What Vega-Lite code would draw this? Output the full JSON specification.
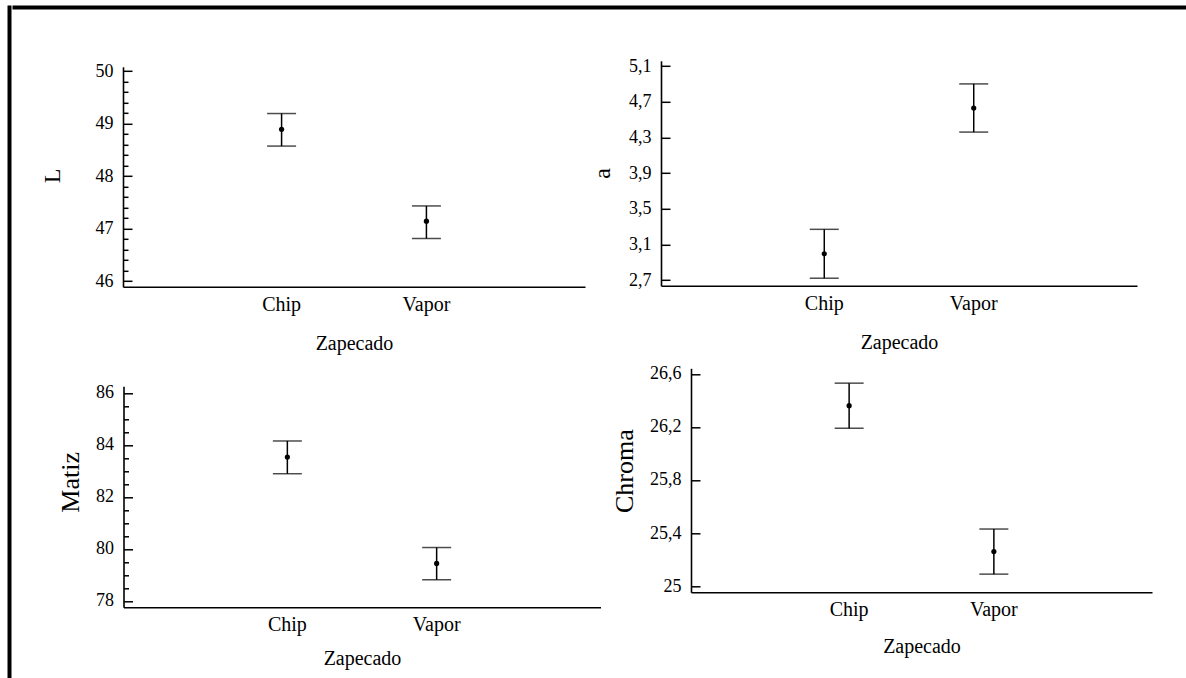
{
  "$schema": "https://vega.github.io/schema/vega-lite/v6.json",
  "background": "white",
  "padding": {"left": 7, "top": 5, "right": 0, "bottom": 0},
  "config": {
    "font": "Liberation Serif",
    "view": {"stroke": null},
    "style": {
      "guide-label": {"font": "Liberation Serif", "fill": "black"},
      "guide-title": {"font": "Liberation Serif", "fill": "black"}
    },
    "axis": {
      "grid": false,
      "domainColor": "black",
      "domainWidth": 1.6,
      "tickColor": "black",
      "tickWidth": 1.5,
      "labelColor": "black",
      "titleColor": "black",
      "labelFont": "Liberation Serif",
      "titleFont": "Liberation Serif",
      "titleFontWeight": "normal",
      "labelOverlap": false
    },
    "axisY": {
      "tickSize": -9,
      "labelFontSize": 18,
      "labelPadding": 19,
      "labelFont": "Liberation Serif",
      "titleFont": "Liberation Serif",
      "titleFontSize": 24,
      "titleBaseline": "middle",
      "titleAngle": 270
    },
    "axisX": {
      "ticks": false,
      "labelAngle": 0,
      "labelFont": "Liberation Serif",
      "titleFont": "Liberation Serif",
      "labelFontSize": 20,
      "labelPadding": 7.5,
      "titleFontSize": 20,
      "titleBaseline": "top"
    }
  },
  "spacing": 0,
  "hconcat": [
    {"data": {"values": []}, "mark": "point", "width": 1, "height": 670, "view": {"stroke": "black", "strokeWidth": 3}},
    {
      "spacing": 46.8,
      "vconcat": [
        {"data": {"values": []}, "mark": "point", "width": 1172, "height": 1, "view": {"stroke": "black", "strokeWidth": 3}},
        {
          "spacing": 10.5,
          "vconcat": [
            {
              "spacing": 5,
              "hconcat": [
                {"data": {"values": []}, "mark": "point", "width": 20.9, "height": 1},
                {
                  "spacing": 0,
                  "vconcat": [
                    {"data": {"values": []}, "mark": "point", "width": 1, "height": 1},
                    {
                      "width": 462,
                      "height": 220,
                      "data": {"values": [
                        {"Zapecado": "Chip", "media": 48.89, "inferior": 48.57, "superior": 49.19},
                        {"Zapecado": "Vapor", "media": 47.14, "inferior": 46.81, "superior": 47.43}
                      ]},
                      "encoding": {
                        "x": {"field": "Zapecado", "type": "nominal", "sort": ["Chip", "Vapor"],
                              "scale": {"type": "band", "paddingInner": 0.81, "paddingOuter": 1},
                              "axis": {"title": "Zapecado", "titleY": 47, "labelFont": "Liberation Serif", "titleFont": "Liberation Serif"}}
                      },
                      "layer": [
                        {
                          "mark": {"type": "errorbar", "ticks": {"size": 29}, "thickness": 1.5, "color": "black"},
                          "encoding": {
                            "y": {"field": "inferior", "type": "quantitative",
                                  "scale": {"domain": [45.89, 50.08], "nice": false, "zero": false},
                                  "axis": {"orient": "left", "title": "L", "values": [46, 47, 48, 49, 50], "tickCount": 100,
                                           "labelExpr": "toString(datum.value)",
                                           "labelFont": "Liberation Serif", "titleFont": "Liberation Serif",
                                           "titleFontSize": 24, "titleX": -70.6, "titleY": 108.7}},
                            "y2": {"field": "superior"}
                          }
                        },
                        {
                          "mark": {"type": "circle", "size": 27, "color": "black", "opacity": 1},
                          "encoding": {
                            "y": {"field": "media", "type": "quantitative",
                                  "scale": {"domain": [45.89, 50.08], "nice": false, "zero": false},
                                  "axis": {"orient": "left", "title": null, "labels": false, "domain": false, "tickSize": -5, "tickCount": 100,
                                           "values": [46.2, 46.4, 46.6, 46.8, 47.2, 47.4, 47.6, 47.8, 48.2, 48.4, 48.6, 48.8, 49.2, 49.4, 49.6, 49.8]}}
                          }
                        }
                      ],
                      "resolve": {"scale": {"y": "independent"}, "axis": {"y": "independent"}}
                    }
                  ]
                },
                {
                  "width": 476,
                  "height": 225,
                  "data": {"values": [
                    {"Zapecado": "Chip", "media": 2.995, "inferior": 2.722, "superior": 3.27},
                    {"Zapecado": "Vapor", "media": 4.63, "inferior": 4.36, "superior": 4.9}
                  ]},
                  "encoding": {
                    "x": {"field": "Zapecado", "type": "nominal", "sort": ["Chip", "Vapor"],
                          "scale": {"type": "band", "paddingInner": 0.815, "paddingOuter": 1},
                          "axis": {"title": "Zapecado", "titleY": 47, "labelFont": "Liberation Serif", "titleFont": "Liberation Serif"}}
                  },
                  "layer": [
                    {
                      "mark": {"type": "errorbar", "ticks": {"size": 29}, "thickness": 1.5, "color": "black"},
                      "encoding": {
                        "y": {"field": "inferior", "type": "quantitative",
                              "scale": {"domain": [2.637, 5.159], "nice": false, "zero": false},
                              "axis": {"title": "a", "values": [2.7, 3.1, 3.5, 3.9, 4.3, 4.7, 5.1], "tickCount": 100,
                                       "labelExpr": "replace(toString(datum.value), '.', ',')",
                                       "labelFont": "Liberation Serif", "titleFont": "Liberation Serif",
                                       "titleFontSize": 24, "titleX": -58.2, "titleY": 112}},
                        "y2": {"field": "superior"}
                      }
                    },
                    {
                      "mark": {"type": "circle", "size": 27, "color": "black", "opacity": 1},
                      "encoding": {"y": {"field": "media", "type": "quantitative"}}
                    }
                  ]
                }
              ]
            },
            {
              "spacing": 10.5,
              "hconcat": [
                {"data": {"values": []}, "mark": "point", "width": 31.1, "height": 1},
                {
                  "spacing": 0,
                  "vconcat": [
                    {"data": {"values": []}, "mark": "point", "width": 1, "height": 15},
                    {
                      "width": 477,
                      "height": 221,
                      "data": {"values": [
                        {"Zapecado": "Chip", "media": 83.53, "inferior": 82.89, "superior": 84.15},
                        {"Zapecado": "Vapor", "media": 79.44, "inferior": 78.81, "superior": 80.05}
                      ]},
                      "encoding": {
                        "x": {"field": "Zapecado", "type": "nominal", "sort": ["Chip", "Vapor"],
                              "scale": {"type": "band", "paddingInner": 0.805, "paddingOuter": 1},
                              "axis": {"title": "Zapecado", "titleY": 41, "labelFont": "Liberation Serif", "titleFont": "Liberation Serif"}}
                      },
                      "layer": [
                        {
                          "mark": {"type": "errorbar", "ticks": {"size": 29}, "thickness": 1.5, "color": "black"},
                          "encoding": {
                            "y": {"field": "inferior", "type": "quantitative",
                                  "scale": {"domain": [77.75, 86.254], "nice": false, "zero": false},
                                  "axis": {"orient": "left", "title": "Matiz", "values": [78, 80, 82, 84, 86], "tickCount": 100,
                                           "labelExpr": "toString(datum.value)",
                                           "labelFont": "Liberation Serif", "titleFont": "Liberation Serif",
                                           "titleFontSize": 26, "titleX": -53.1, "titleY": 95.6}},
                            "y2": {"field": "superior"}
                          }
                        },
                        {
                          "mark": {"type": "circle", "size": 27, "color": "black", "opacity": 1},
                          "encoding": {
                            "y": {"field": "media", "type": "quantitative",
                                  "scale": {"domain": [77.75, 86.254], "nice": false, "zero": false},
                                  "axis": {"orient": "left", "title": null, "labels": false, "domain": false, "tickSize": -5, "tickCount": 100,
                                           "values": [78.5, 79, 79.5, 80.5, 81, 81.5, 82.5, 83, 83.5, 84.5, 85, 85.5]}}
                          }
                        }
                      ],
                      "resolve": {"scale": {"y": "independent"}, "axis": {"y": "independent"}}
                    }
                  ]
                },
                {
                  "width": 461,
                  "height": 224,
                  "data": {"values": [
                    {"Zapecado": "Chip", "media": 26.36, "inferior": 26.19, "superior": 26.53},
                    {"Zapecado": "Vapor", "media": 25.26, "inferior": 25.09, "superior": 25.43}
                  ]},
                  "encoding": {
                    "x": {"field": "Zapecado", "type": "nominal", "sort": ["Chip", "Vapor"],
                          "scale": {"type": "band", "paddingInner": 0.815, "paddingOuter": 1},
                          "axis": {"title": "Zapecado", "titleY": 44, "labelFont": "Liberation Serif", "titleFont": "Liberation Serif"}}
                  },
                  "layer": [
                    {
                      "mark": {"type": "errorbar", "ticks": {"size": 29}, "thickness": 1.5, "color": "black"},
                      "encoding": {
                        "y": {"field": "inferior", "type": "quantitative",
                              "scale": {"domain": [24.953, 26.642], "nice": false, "zero": false},
                              "axis": {"title": "Chroma", "values": [25, 25.4, 25.8, 26.2, 26.6], "tickCount": 100,
                                       "labelExpr": "replace(toString(datum.value), '.', ',')",
                                       "labelFont": "Liberation Serif", "titleFont": "Liberation Serif",
                                       "titleFontSize": 26, "titleX": -66.7, "titleY": 102.3}},
                        "y2": {"field": "superior"}
                      }
                    },
                    {
                      "mark": {"type": "circle", "size": 27, "color": "black", "opacity": 1},
                      "encoding": {"y": {"field": "media", "type": "quantitative"}}
                    }
                  ]
                }
              ]
            }
          ]
        }
      ]
    }
  ]
}
